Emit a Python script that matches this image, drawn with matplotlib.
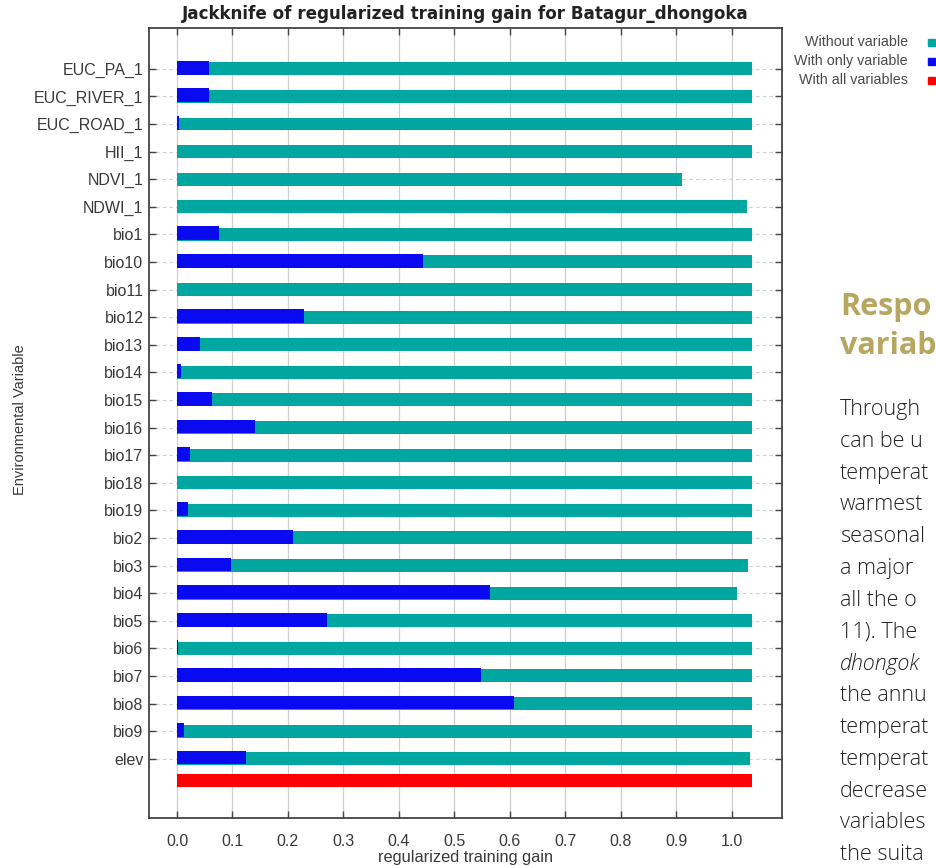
import matplotlib
matplotlib.use("Agg")
import matplotlib.pyplot as plt
import numpy as np

# Jackknife of regularized training gain (MaxEnt) for Batagur dhongoka
variables = ["EUC_PA_1", "EUC_RIVER_1", "EUC_ROAD_1", "HII_1", "NDVI_1", "NDWI_1",
             "bio1", "bio10", "bio11", "bio12", "bio13", "bio14", "bio15", "bio16",
             "bio17", "bio18", "bio19", "bio2", "bio3", "bio4", "bio5", "bio6",
             "bio7", "bio8", "bio9", "elev"]
without_variable = [1.036, 1.036, 1.036, 1.036, 0.910, 1.027,
                    1.036, 1.036, 1.036, 1.036, 1.036, 1.036, 1.036, 1.036,
                    1.036, 1.036, 1.036, 1.036, 1.029, 1.009, 1.036, 1.036,
                    1.036, 1.036, 1.036, 1.033]
with_only_variable = [0.058, 0.057, 0.003, 0.0, 0.0, 0.0,
                      0.075, 0.444, 0.0, 0.229, 0.042, 0.007, 0.064, 0.141,
                      0.023, 0.0, 0.019, 0.209, 0.097, 0.565, 0.270, 0.002,
                      0.548, 0.607, 0.013, 0.124]
with_all_variables = 1.036
x_ticks = [0.0, 0.1, 0.2, 0.3, 0.4, 0.5, 0.6, 0.7, 0.8, 0.9, 1.0]

TEAL = "#00A6A0"
BLUE = "#0A0AF0"
RED = "#FF0000"
TXT = "#3a3a3a"

plt.rcParams["font.family"] = ["Liberation Sans", "DejaVu Sans"]

fig = plt.figure(figsize=(9.36, 8.66), dpi=100)
ax = fig.add_axes([149 / 936, 1 - 818.3 / 866, (782 - 149) / 936, (818.3 - 27.7) / 866])

rows = np.arange(len(variables))
ax.barh(rows, without_variable, height=0.47, color=TEAL, zorder=3)
ax.barh(rows - 0.04, with_only_variable, height=0.5, color=BLUE, zorder=4)
# the all-variables bar sits a little closer to the last variable row
ax.barh([len(variables) - 0.2], [with_all_variables], height=0.47, color=RED, zorder=3)

ax.set_xlim(-0.0505, 1.091)
ax.set_ylim(27.16, -1.49)
ax.set_xticks(x_ticks)
ax.set_xticklabels([f"{v:.1f}" for v in x_ticks])
ax.set_yticks(rows)
ax.set_yticklabels(variables)

ax.grid(axis="x", color="#cfcfcf", linewidth=0.9, zorder=0)
ax.grid(axis="y", color="#cfcfcf", linewidth=0.8, linestyle=(0, (3, 3)), zorder=0)
ax.tick_params(direction="in", length=5, width=1, color="#444444",
               top=True, right=True, labelsize=11.5, labelcolor=TXT, pad=4)
ax.tick_params(axis="x", pad=11)
for s in ax.spines.values():
    s.set_color("#444444")
    s.set_linewidth(1.3)

ax.set_title("Jackknife of regularized training gain for Batagur_dhongoka",
             fontsize=12.1, fontweight="bold", color="#222222", pad=6,
             family=["DejaVu Sans"])
ax.set_xlabel("regularized training gain", fontsize=11.8, color=TXT, labelpad=1)
fig.text(20 / 936, 1 - 420 / 866, "Environmental Variable", rotation=90,
         ha="center", va="center", fontsize=10.5, color=TXT)

# legend entries, right aligned with colour squares
legend_items = [("Without variable", TEAL), ("With only variable", BLUE),
                ("With all variables", RED)]
for i, (label, col) in enumerate(legend_items):
    y = 1 - (42.5 + 18.8 * i) / 866
    fig.text(908 / 936, y, label, ha="right", va="center", fontsize=10.3, color="#4a4a4a")
    fig.patches.append(plt.Rectangle((928 / 936, y - 3.5 / 866), 7 / 936, 7 / 866,
                                     transform=fig.transFigure, color=col))

# article text beside the chart
GOLD = "#B8A660"
SIDE_FONT = ["Open Sans", "DejaVu Sans"]
fig.text(840 / 936, 1 - 307 / 866, "Respo", ha="left", va="center",
         fontsize=22, fontweight="bold", color=GOLD, family=SIDE_FONT)
fig.text(840 / 936, 1 - 346 / 866, "variab", ha="left", va="center",
         fontsize=22, fontweight="bold", color=GOLD, family=SIDE_FONT)

body_lines = ["Through", "can be u", "temperat", "warmest", "seasonal",
              "a major", "all the o", "11). The", "dhongok", "the annu",
              "temperat", "temperat", "decrease", "variables", "the suita"]
for i, line in enumerate(body_lines):
    y = 1 - (409.5 + 31.8 * i) / 866
    fig.text(840 / 936, y, line, ha="left", va="center", fontsize=15.5,
             fontweight="light", color="#222222",
             style="italic" if line.startswith("dhong") else "normal",
             family=SIDE_FONT)

fig.savefig("out.png", dpi=100)
